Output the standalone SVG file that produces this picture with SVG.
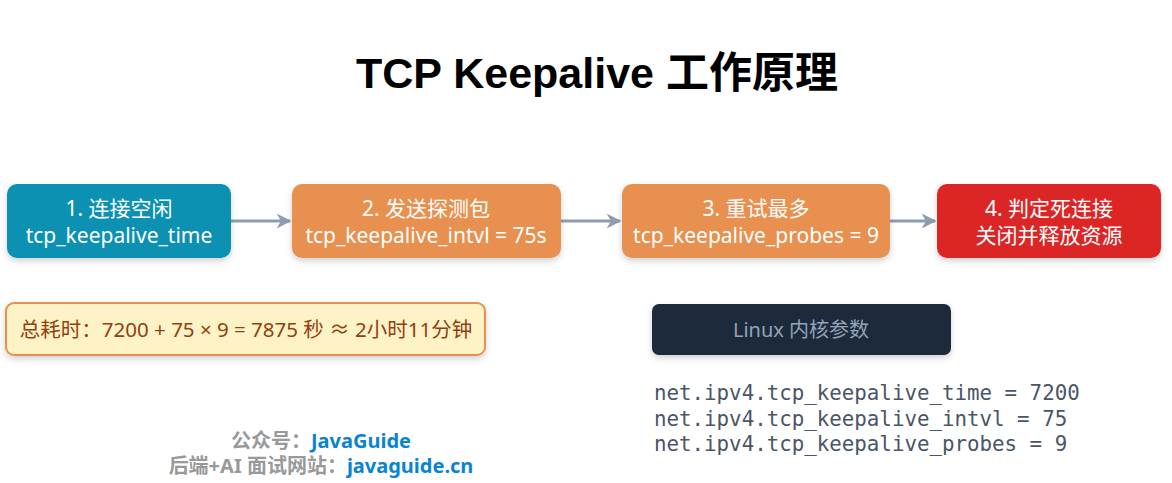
<svg xmlns="http://www.w3.org/2000/svg" width="1172" height="483" viewBox="0 0 1172 483">
<defs>
<filter id="sh" x="-10%" y="-20%" width="120%" height="150%"><feDropShadow dx="0" dy="3" stdDeviation="3" flood-color="#000" flood-opacity="0.18"/></filter>
<marker id="ar" viewBox="0 0 10 10" refX="9" refY="5" markerWidth="5" markerHeight="5" orient="auto"><path d="M0,0 L10,5 L0,10 L3,5 Z" fill="#8f9bb0"/></marker>
</defs>
<style>
text{font-family:"Noto Sans","Noto Sans CJK SC",sans-serif;}
.t{fill:#fff;font-size:21px;text-anchor:middle}
.m{font-family:"DejaVu Sans Mono",monospace;font-size:20.8px;fill:#4a5568}
.c{stroke:#8f9bb0;stroke-width:3;fill:none;marker-end:url(#ar)}
</style>
<rect width="1172" height="483" fill="#fff"/>
<text x="597" y="88" text-anchor="middle" font-size="43" font-weight="bold" fill="#000" style="font-family:'Liberation Sans','Noto Sans CJK SC',sans-serif">TCP Keepalive 工作原理</text>
<g id="connectors">
<path class="c" d="M231 221 H290"/>
<path class="c" d="M561 221 H620"/>
<path class="c" d="M890 221 H935"/>
</g>
<g id="n1"><rect x="7" y="184" width="224" height="74" rx="10" fill="#0a91b3" filter="url(#sh)"/><text class="t" x="119" y="216">1. 连接空闲</text><text class="t" x="119" y="243">tcp_keepalive_time</text></g>
<g id="n2"><rect x="292" y="184" width="269" height="74" rx="10" fill="#e89050" filter="url(#sh)"/><text class="t" x="426" y="216">2. 发送探测包</text><text class="t" x="426" y="243">tcp_keepalive_intvl = 75s</text></g>
<g id="n3"><rect x="622" y="184" width="268" height="74" rx="10" fill="#e89050" filter="url(#sh)"/><text class="t" x="756" y="216">3. 重试最多</text><text class="t" x="756" y="243">tcp_keepalive_probes = 9</text></g>
<g id="n4"><rect x="937" y="184" width="224" height="74" rx="10" fill="#dc2626" filter="url(#sh)"/><text class="t" x="1049" y="216">4. 判定死连接</text><text class="t" x="1049" y="243">关闭并释放资源</text></g>
<g id="formula"><rect x="6" y="303" width="479" height="52" rx="8" fill="#fef3c7" stroke="#e89050" stroke-width="2" filter="url(#sh)"/><text x="246" y="337" text-anchor="middle" font-size="20.5" fill="#92400e">总耗时：7200 + 75 × 9 = 7875 秒 ≈ 2小时11分钟</text></g>
<g id="linux"><rect x="652" y="304" width="299" height="51" rx="7" fill="#1e293b" filter="url(#sh)"/><text x="801" y="337" text-anchor="middle" font-size="20" fill="#94a3b8">Linux 内核参数</text></g>
<g id="params">
<text class="m" x="654" y="400">net.ipv4.tcp_keepalive_time = 7200</text>
<text class="m" x="654" y="426">net.ipv4.tcp_keepalive_intvl = 75</text>
<text class="m" x="654" y="451">net.ipv4.tcp_keepalive_probes = 9</text>
</g>
<g id="footer" font-size="20" font-weight="bold">
<text x="321" y="448" text-anchor="middle"><tspan fill="#999">公众号：</tspan><tspan fill="#0a84d0">JavaGuide</tspan></text>
<text x="321" y="473" text-anchor="middle"><tspan fill="#999">后端+AI 面试网站：</tspan><tspan fill="#0a84d0">javaguide.cn</tspan></text>
</g>
</svg>
